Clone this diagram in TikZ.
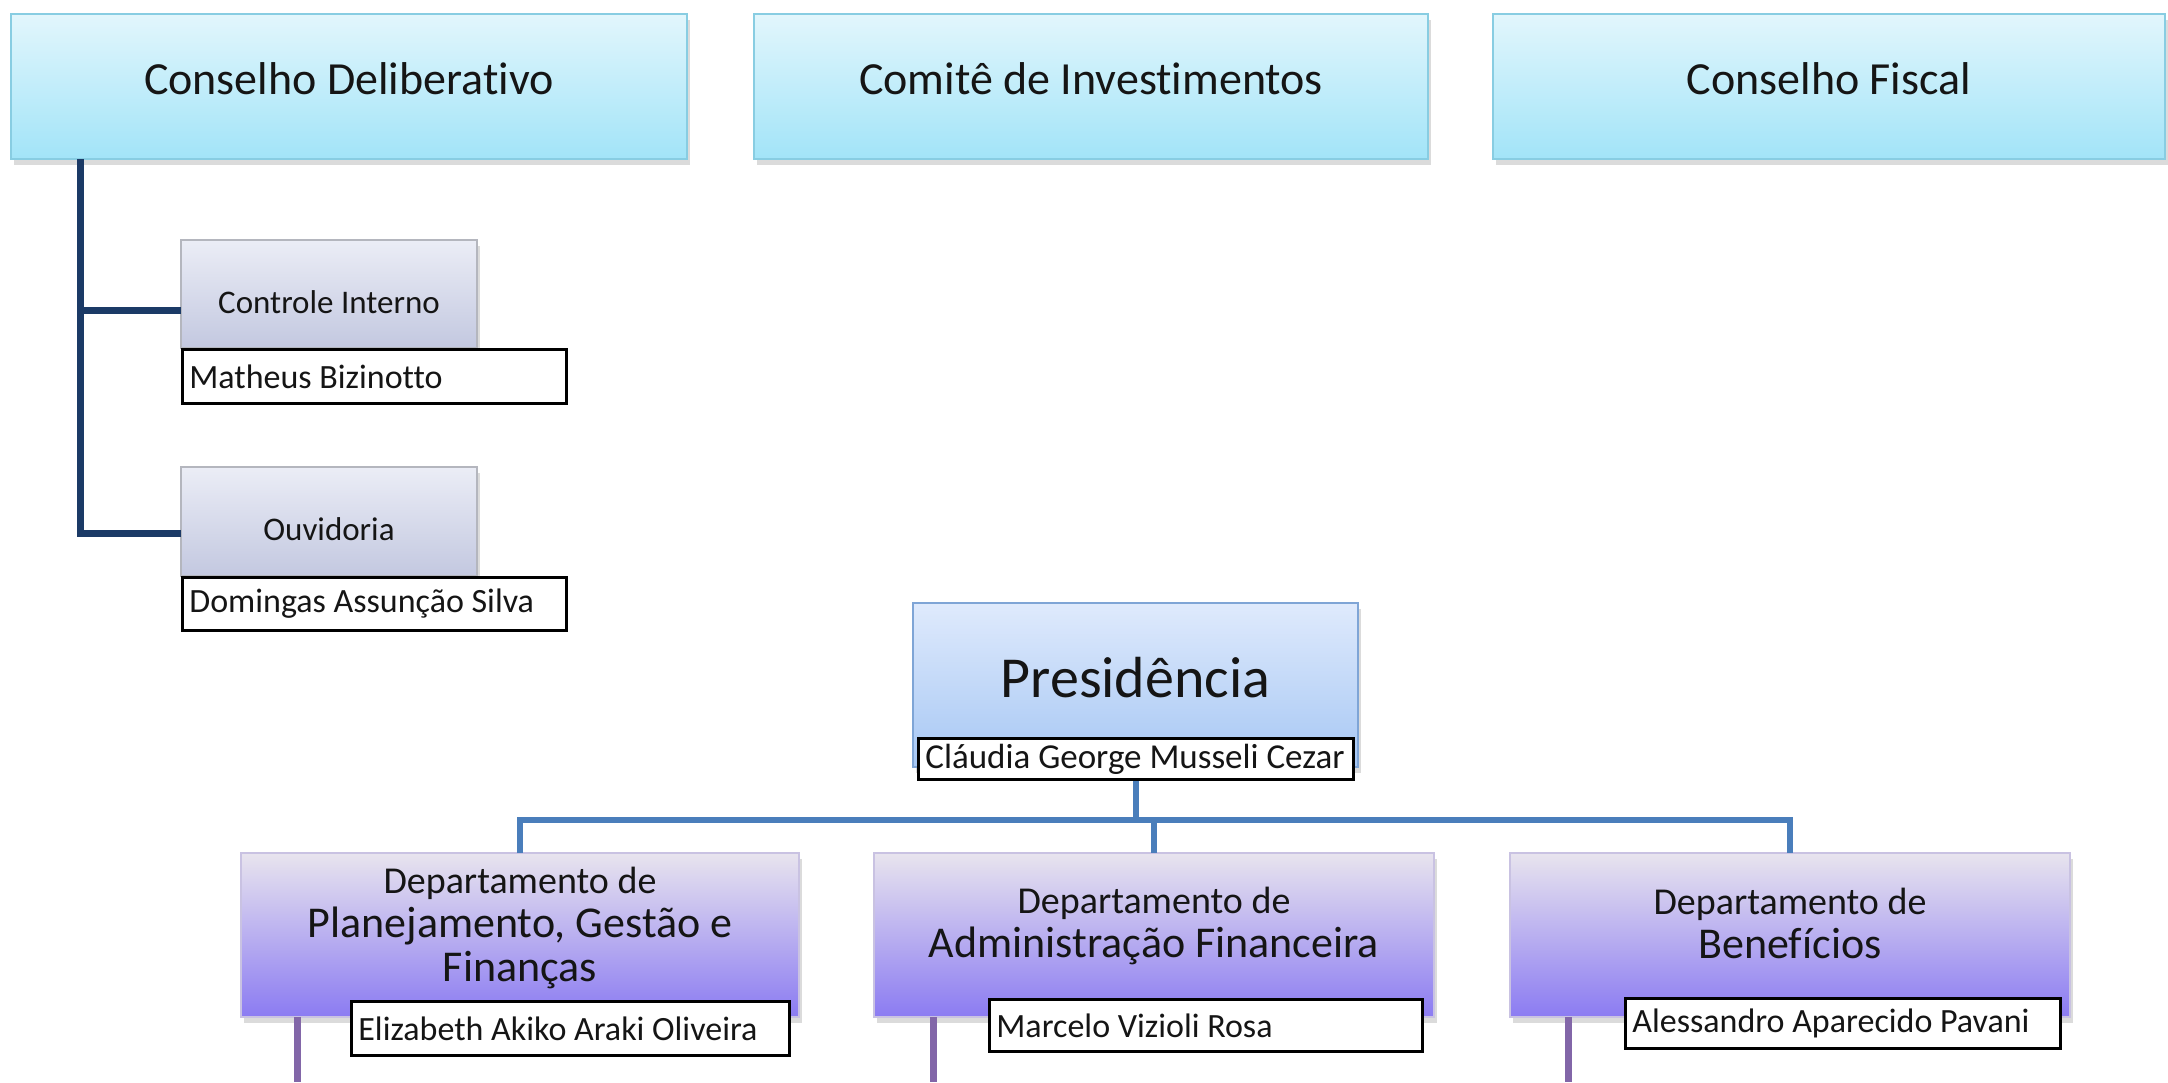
\documentclass[tikz,border=0pt]{standalone}
\usepackage{fontspec}
\setmainfont{Carlito}[Ligatures=NoCommon]
\usetikzlibrary{shadows,calc}
\definecolor{topA}{HTML}{E2F6FC}
\definecolor{topB}{HTML}{A2E4F8}
\definecolor{topLine}{HTML}{88CDE2}
\definecolor{grayA}{HTML}{EBEDF6}
\definecolor{grayB}{HTML}{C3C8E0}
\definecolor{grayLine}{HTML}{B4B6BE}
\definecolor{presA}{HTML}{DFEAFC}
\definecolor{presB}{HTML}{A6C7F4}
\definecolor{presLine}{HTML}{7FA5D6}
\definecolor{deptA}{HTML}{E8E4EE}
\definecolor{deptB}{HTML}{8B7BF2}
\definecolor{deptLine}{HTML}{C9C2E2}
\definecolor{navyLine}{HTML}{1B3A66}
\definecolor{blueLine}{HTML}{4A7EBB}
\definecolor{purpLine}{HTML}{8266A8}
\definecolor{ink}{HTML}{151515}
\tikzset{
  px/.style={x=1pt,y=-1pt},
  boxbase/.style={anchor=north west, inner sep=0pt, outer sep=0pt, text=ink,
    drop shadow={shadow xshift=3pt, shadow yshift=-6pt, opacity=0.28}},
  topbox/.style={boxbase, draw=topLine, line width=2.5pt, top color=topA, bottom color=topB,
    minimum height=145pt, font=\fontsize{46}{55}\selectfont},
  graybox/.style={boxbase, draw=grayLine, line width=2pt, top color=grayA, bottom color=grayB,
    minimum width=296pt, font=\fontsize{33}{40}\selectfont},
  presbox/.style={boxbase, draw=presLine, line width=2.5pt, top color=presA, bottom color=presB,
    minimum width=445pt, minimum height=164pt, font=\fontsize{58}{66}\selectfont},
  deptbox/.style={boxbase, draw=deptLine, line width=2pt, top color=deptA, bottom color=deptB,
    minimum height=164pt},
  depttext/.style={align=flush center, text=ink, inner sep=0pt, font=\fontsize{44}{44}\selectfont},
  namebox/.style={anchor=north west, draw=black, line width=2.8pt, fill=white, text=ink,
    inner xsep=7pt, inner ysep=0pt, align=flush left, font=\fontsize{34}{40}\selectfont},
  navy/.style={draw=navyLine, line width=7pt},
  blueconn/.style={draw=blueLine, line width=6pt},
  purpconn/.style={draw=purpLine, line width=7pt},
}
\newcommand{\smallline}[1]{{\fontsize{38}{44}\selectfont #1}}
\newcommand{\lift}[2]{\raisebox{#1}[\height][\depth]{#2}}
\begin{document}
\begin{tikzpicture}[px]
\useasboundingbox (0,0) rectangle (2168,1082);
\fill[white] (0,0) rectangle (2168,1082);

% top row
\node[topbox, minimum width=676pt] (cd) at (11,14) {\lift{8pt}{Conselho Deliberativo}};
\node[topbox, minimum width=674pt] (cinv) at (754,14) {\lift{8pt}{Comitê de Investimentos}};
\node[topbox, minimum width=672pt] (cf) at (1493,14) {\lift{8pt}{Conselho Fiscal}};

% left branch
\node[graybox, minimum height=108pt] (ctrl) at (181,240) {\lift{-8pt}{Controle Interno}};
\node[namebox, minimum height=54pt, text width=370pt] (ctrlname) at (181,348) {Matheus Bizinotto};
\node[graybox, minimum height=109pt] (ouv) at (181,467) {\lift{-8pt}{Ouvidoria}};
\node[namebox, minimum height=53pt, text width=370pt] (ouvname) at (181,576) {Domingas Assunção Silva};

\draw[navy] (cd.south west) ++(69,0) |- ([yshift=-16pt]ctrl.west);
\draw[navy] (cd.south west) ++(69,0) |- ([yshift=-12pt]ouv.west);

% presidency
\node[presbox] (pres) at (913,603) {\lift{7pt}{Presidência}};
\node[namebox, minimum height=41pt, text width=421pt, font=\fontsize{35}{40}\selectfont] (presname) at (917,737) {Cláudia George Musseli Cezar};

% departments
\node[deptbox, minimum width=558pt] (d1) at (241,853) {};
\node[deptbox, minimum width=560pt] (d2) at (874,853) {};
\node[deptbox, minimum width=560pt] (d3) at (1510,853) {};

\node[depttext] (d1t) at ($(d1.center)+(0,-7)$) {\smallline{Departamento de}\\Planejamento, Gestão e\\Finanças};
\node[depttext] (d2t) at ($(d2.center)+(0,-9)$) {\smallline{Departamento de}\\Administração Financeira};
\node[depttext] (d3t) at ($(d3.center)+(0,-12)$) {\smallline{Departamento de}\\Benefícios};

% connectors from presidency
\draw[blueconn] (presname.south) -- ++(0,39) coordinate (bus);
\draw[blueconn] (d1.north) |- (bus) -| (d3.north);
\draw[blueconn] (bus) -| (d2.north);

\node[namebox, minimum height=54pt, text width=424pt] (d1name) at (350,1000) {Elizabeth Akiko Araki Oliveira};
\node[namebox, minimum height=52pt, text width=419pt] (d2name) at (988,998) {Marcelo Vizioli Rosa};
\node[namebox, minimum height=50pt, text width=421pt] (d3name) at (1624,997) {Alessandro Aparecido Pavani};

% purple stubs
\coordinate (d1low) at (297,1082);
\coordinate (d2low) at (933,1082);
\coordinate (d3low) at (1568,1082);
\draw[purpconn] (d1.south -| d1low) -- (d1low);
\draw[purpconn] (d2.south -| d2low) -- (d2low);
\draw[purpconn] (d3.south -| d3low) -- (d3low);
\end{tikzpicture}
\end{document}
